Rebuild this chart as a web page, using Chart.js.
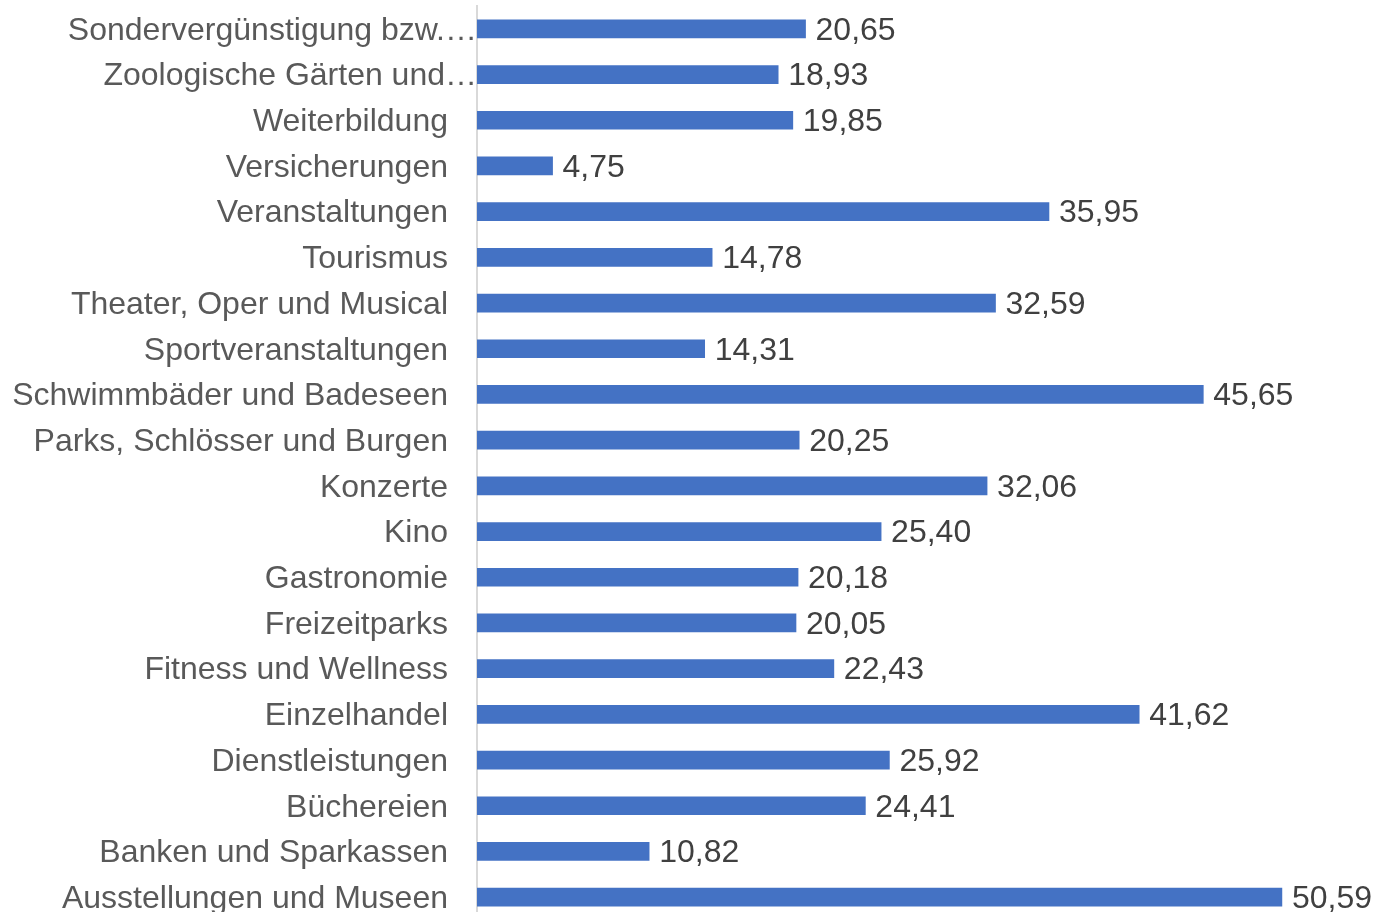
<!DOCTYPE html>
<html>
<head>
<meta charset="utf-8">
<script src="https://cdn.jsdelivr.net/npm/chart.js@4.4.1/dist/chart.umd.min.js"></script>
<style>
  html, body { margin: 0; padding: 0; background: #fff; overflow: hidden; }
  #wrap { position: relative; width: 1385px; height: 920px; }
</style>
</head>
<body>
<div id="wrap"><canvas id="c"></canvas></div>
<script>
const categories = [
  'Sondervergünstigung bzw.…',
  'Zoologische Gärten und…',
  'Weiterbildung',
  'Versicherungen',
  'Veranstaltungen',
  'Tourismus',
  'Theater, Oper und Musical',
  'Sportveranstaltungen',
  'Schwimmbäder und Badeseen',
  'Parks, Schlösser und Burgen',
  'Konzerte',
  'Kino',
  'Gastronomie',
  'Freizeitparks',
  'Fitness und Wellness',
  'Einzelhandel',
  'Dienstleistungen',
  'Büchereien',
  'Banken und Sparkassen',
  'Ausstellungen und Museen'
];
const values = [20.65, 18.93, 19.85, 4.75, 35.95, 14.78, 32.59, 14.31, 45.65, 20.25,
                32.06, 25.40, 20.18, 20.05, 22.43, 41.62, 25.92, 24.41, 10.82, 50.59];

const FONT = '32px "Liberation Sans", Arial, sans-serif';

const labelsPlugin = {
  id: 'labelsPlugin',
  afterDatasetsDraw(chart) {
    const ctx = chart.ctx;
    const yScale = chart.scales.y;
    const meta = chart.getDatasetMeta(0);
    ctx.save();
    ctx.font = FONT;
    ctx.textBaseline = 'middle';
    // category labels
    ctx.fillStyle = '#595959';
    ctx.textAlign = 'right';
    categories.forEach((lab, i) => {
      const y = yScale.getPixelForTick(i) + 2;
      const truncated = lab.endsWith('…');
      ctx.fillText(lab, truncated ? chart.chartArea.left : chart.chartArea.left - 29, y);
    });
    // value labels
    ctx.fillStyle = '#404040';
    ctx.textAlign = 'left';
    meta.data.forEach((bar, i) => {
      const txt = values[i].toFixed(2).replace('.', ',');
      ctx.fillText(txt, bar.x + 10, bar.y + 2);
    });
    ctx.restore();
  }
};

new Chart(document.getElementById('c'), {
  type: 'bar',
  data: {
    labels: categories,
    datasets: [{
      data: values,
      backgroundColor: '#4472C4',
      borderWidth: 0,
      barThickness: 18
    }]
  },
  options: {
    indexAxis: 'y',
    responsive: true,
    maintainAspectRatio: false,
    animation: false,
    layout: { padding: { top: 6, right: 0, bottom: 0, left: 0 } },
    plugins: { legend: { display: false }, tooltip: { enabled: false } },
    scales: {
      x: {
        min: 0, max: 57.07,
        display: false
      },
      y: {
        grid: { display: false, drawTicks: false },
        border: { display: true, color: '#D9D9D9', width: 2 },
        ticks: { display: false },
        afterFit(scale) { scale.width = 477; }
      }
    }
  },
  plugins: [labelsPlugin]
});
</script>
</body>
</html>
